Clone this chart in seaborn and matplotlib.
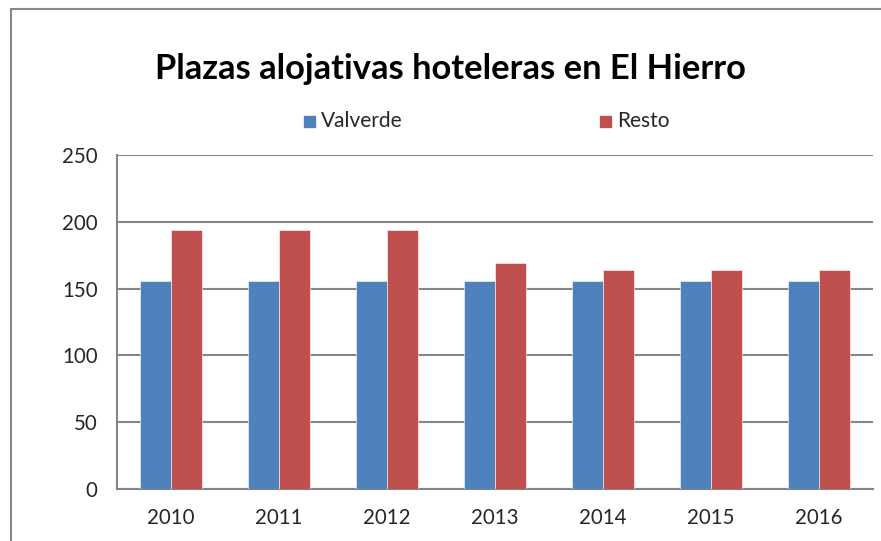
import matplotlib
matplotlib.use("Agg")
import matplotlib.pyplot as plt
import seaborn as sns
import pandas as pd
from matplotlib.lines import Line2D

years = ["2010", "2011", "2012", "2013", "2014", "2015", "2016"]
valverde = [156, 156, 156, 156, 156, 156, 156]
resto = [194, 194, 194, 169, 164, 164, 164]
series_names = ["Valverde", "Resto"]
title = "Plazas alojativas hoteleras en El Hierro"
yticks = [0, 50, 100, 150, 200, 250]

df = pd.DataFrame({
    "Año": years * 2,
    "Serie": [series_names[0]] * len(years) + [series_names[1]] * len(years),
    "Plazas": valverde + resto,
})

sns.set_theme(style="white")
plt.rcParams["font.family"] = ["Lato", "DejaVu Sans"]

fig = plt.figure(figsize=(8.81, 5.41), dpi=100)
ax = fig.add_axes([117 / 881, 52 / 541, (873 - 117) / 881, (489 - 155) / 541])

palette = {"Valverde": "#4F81BD", "Resto": "#C0504D"}
sns.barplot(data=df, x="Año", y="Plazas", hue="Serie", palette=palette,
            width=0.574, gap=0, saturation=1, ax=ax, legend=False, zorder=3)

ax.set_ylim(0, 250)
ax.set_yticks(yticks)
ax.set_yticklabels([str(v) for v in yticks], fontsize=14.8)
ax.tick_params(axis="x", labelsize=14.8, length=0, pad=14)
ax.tick_params(axis="y", length=0, pad=14)
ax.set_xlabel("")
ax.set_ylabel("")
ax.set_xlim(-0.5, len(years) - 0.5)

ax.yaxis.grid(True, color="#868686", linewidth=1.5, zorder=0)
ax.set_axisbelow(True)
for s in ["top", "right"]:
    ax.spines[s].set_visible(False)
for s in ["left", "bottom"]:
    ax.spines[s].set_color("#868686")
    ax.spines[s].set_linewidth(1.5)

for p in ax.patches:
    p.set_edgecolor("white")
    p.set_linewidth(0.4)

fig.text(450 / 881, 1 - 69 / 541, title, ha="center", va="center",
         fontsize=24.8, fontweight="bold", color="black")

leg_x = [304 / 881, 600 / 881]
for n, lx in zip(series_names, leg_x):
    fig.patches.append(plt.Rectangle((lx, 1 - 127 / 541), 11 / 881, 11 / 541,
                                     transform=fig.transFigure, color=palette[n]))
    fig.text(lx + 17 / 881, 1 - 121 / 541, n, ha="left", va="center", fontsize=15)

# outer chart frame (partially visible)
fig.add_artist(Line2D([11 / 881, 11 / 881], [0, 1 - 9 / 541], color="#888888",
                      linewidth=1.5, transform=fig.transFigure))
fig.add_artist(Line2D([11 / 881, 1], [1 - 9 / 541, 1 - 9 / 541], color="#888888",
                      linewidth=1.5, transform=fig.transFigure))

fig.savefig("out.png", dpi=100)
